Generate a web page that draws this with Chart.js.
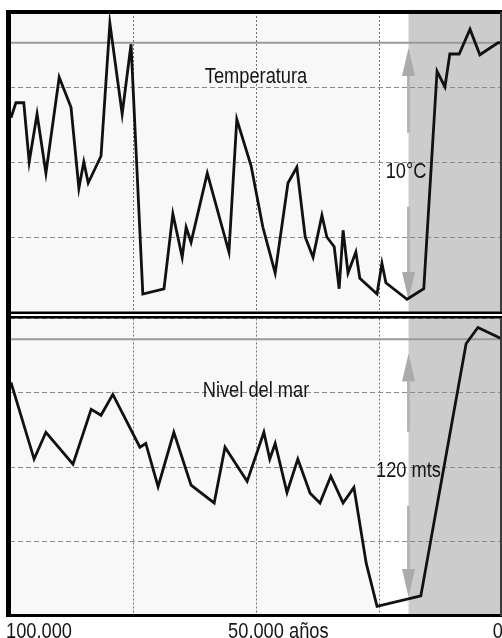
<!DOCTYPE html>
<html lang="es">
<head>
<meta charset="UTF-8">
<title>Temperatura y nivel del mar</title>
<script src="https://cdn.jsdelivr.net/npm/chart.js@4.4.1/dist/chart.umd.min.js"></script>
<style>
  body { margin: 0; background: #fff; }
  #top-box { position: absolute; left: 0; top: 0; }
  #bottom-box { position: absolute; left: 0; top: 316px; }
</style>
</head>
<body>
<div id="top-box"><canvas id="temp-chart" width="502" height="316"></canvas></div>
<div id="bottom-box"><canvas id="sea-chart" width="502" height="322"></canvas></div>
<script>
// miles de años antes del presente / valores en unidades de la cuadrícula (0-4)
var tempYears = [99.8, 98.8, 97.2, 96.1, 94.5, 92.7, 90.0, 87.6, 86.0, 85.0, 84.1, 81.5, 79.7, 77.2, 75.4,
    73.0, 68.7, 66.9, 65.0, 64.2, 63.2, 59.9, 55.5, 53.9, 51.0, 48.6, 46.1, 43.5, 41.7, 40.0, 38.4,
    36.6, 35.6, 34.1, 33.1, 32.3, 31.3, 29.7, 28.9, 25.4, 24.4, 23.6, 19.3, 15.9, 13.2, 11.6, 10.6,
    8.7, 6.5, 4.5, 2.2, 0.8, 0];
var tempValues = [2.59, 2.79, 2.79, 2.00, 2.64, 1.85, 3.13, 2.73, 1.65, 2.00, 1.72, 2.08, 3.85, 2.64, 3.57,
    0.24, 0.31, 1.31, 0.73, 1.13, 0.93, 1.85, 0.80, 2.57, 1.95, 1.13, 0.52, 1.72, 1.93, 1.00, 0.73,
    1.29, 1.00, 0.87, 0.31, 1.09, 0.52, 0.80, 0.45, 0.24, 0.65, 0.39, 0.17, 0.31, 3.21, 3.00, 3.44,
    3.44, 3.77, 3.43, 3.53, 3.59, 3.59];
var seaYears = [99.8, 95.1, 92.7, 87.2, 83.5, 81.5, 79.1, 73.6, 72.4, 69.9, 66.7, 63.2, 58.5, 56.3, 51.8,
    48.4, 47.2, 46.1, 43.7, 41.5, 39.0, 37.0, 34.8, 32.3, 30.1, 27.6, 25.4, 16.5, 7.3, 4.9, 0.2];
var seaValues = [3.14, 2.11, 2.47, 2.04, 2.78, 2.70, 2.98, 2.27, 2.32, 1.74, 2.47, 1.76, 1.52, 2.27, 1.81,
    2.47, 2.11, 2.32, 1.66, 2.11, 1.65, 1.52, 1.88, 1.52, 1.73, 0.71, 0.13, 0.27, 3.66, 3.88, 3.73];

var xTickValues = [100, 50, 0];
var xTickLabels = ['100.000', '50.000 años', '0'];
var panelTitles = ['Temperatura', 'Nivel del mar'];
var rangeLabels = ['10°C', '120 mts'];
var presentLevels = [3.59, 3.72];
var rangeTops = [3.52, 3.53];
var rangeBottoms = [0.16, 0.255];
var holoceneStart = 19;

var FONT = '22px "Liberation Sans", Arial, sans-serif';
var SQUEEZE = 0.83;

function squeezedText(ctx, text, x, y, align) {
    ctx.save();
    ctx.translate(x, y);
    ctx.scale(SQUEEZE, 1);
    ctx.font = FONT;
    ctx.fillStyle = '#151515';
    ctx.textAlign = align;
    ctx.textBaseline = 'alphabetic';
    ctx.fillText(text, 0, 0);
    ctx.restore();
}

function drawArrow(ctx, x, yTop, yBottom, gapTop, gapBottom) {
    var head = 28, half = 6.5;
    ctx.save();
    ctx.fillStyle = '#ababab';
    ctx.beginPath();
    ctx.moveTo(x, yTop);
    ctx.lineTo(x - half, yTop + head);
    ctx.lineTo(x + half, yTop + head);
    ctx.closePath();
    ctx.fill();
    ctx.beginPath();
    ctx.moveTo(x, yBottom);
    ctx.lineTo(x - half, yBottom - head);
    ctx.lineTo(x + half, yBottom - head);
    ctx.closePath();
    ctx.fill();
    ctx.fillStyle = '#b5b5b5';
    ctx.fillRect(x - 1.5, yTop + head, 3, gapTop - (yTop + head));
    ctx.fillRect(x - 1.5, gapBottom, 3, (yBottom - head) - gapBottom);
    ctx.restore();
}

var panelPlugin = {
    id: 'panel',
    beforeDraw: function (chart) {
        var a = chart.chartArea, x = chart.scales.x, ctx = chart.ctx;
        var xs = x.getPixelForValue(holoceneStart);
        var xg = x.getPixelForValue(25);
        ctx.save();
        ctx.fillStyle = '#f8f8f8';
        ctx.fillRect(a.left, a.top, xg - a.left, a.bottom - a.top);
        ctx.fillStyle = '#cccccc';
        ctx.fillRect(xs, a.top, a.right - xs, a.bottom - a.top);
        ctx.restore();
    },
    beforeDatasetsDraw: function (chart, args, opts) {
        var i = opts.index;
        var a = chart.chartArea, x = chart.scales.x, y = chart.scales.y, ctx = chart.ctx;
        // nivel actual
        var yp = y.getPixelForValue(presentLevels[i]);
        ctx.save();
        ctx.strokeStyle = '#9a9a9a';
        ctx.lineWidth = 2;
        ctx.beginPath();
        ctx.moveTo(a.left, yp);
        ctx.lineTo(a.right, yp);
        ctx.stroke();
        ctx.restore();

        var ax = x.getPixelForValue(holoceneStart);
        var ly = y.getPixelForValue(opts.rangeLabelAt);
        drawArrow(ctx, ax, y.getPixelForValue(rangeTops[i]), y.getPixelForValue(rangeBottoms[i]), ly - 45, ly + 29);
        squeezedText(ctx, rangeLabels[i], x.getPixelForValue(opts.rangeLabelYear), ly, 'center');
        squeezedText(ctx, panelTitles[i], x.getPixelForValue(50), y.getPixelForValue(opts.titleAt), 'center');
    },
    afterDraw: function (chart, args, opts) {
        var a = chart.chartArea, ctx = chart.ctx, f = opts.frame;
        ctx.save();
        ctx.fillStyle = '#000';
        ctx.fillRect(a.left - 4, a.top + f.top[0], a.right - a.left + 4, f.top[1]);
        ctx.fillRect(a.left - 4, a.bottom + f.bottom[0], a.right - a.left + 4, f.bottom[1]);
        ctx.fillRect(a.left - 4, f.left[0], 5, f.left[1]);
        ctx.fillStyle = '#3a3a3a';
        ctx.fillRect(a.right - 2, a.top, 2, a.bottom - a.top);
        ctx.restore();

        if (opts.xLabels) {
            var x = chart.scales.x;
            var base = a.bottom + 21.5;
            for (var k = 0; k < xTickValues.length; k++) {
                var px = x.getPixelForValue(xTickValues[k]);
                var txt = xTickLabels[k];
                if (k === 0) {
                    squeezedText(ctx, txt, px - 4, base, 'left');
                } else if (k === xTickValues.length - 1) {
                    squeezedText(ctx, txt, px + 1, base, 'right');
                } else {
                    ctx.save();
                    ctx.font = FONT;
                    var w = ctx.measureText(txt.split(' ')[0]).width * SQUEEZE;
                    ctx.restore();
                    squeezedText(ctx, txt, px - w / 2, base, 'left');
                }
            }
        }
    }
};

function makeConfig(years, values, panelOpts, padding) {
    var points = [];
    for (var i = 0; i < years.length; i++) {
        points.push({x: years[i], y: values[i]});
    }
    return {
        type: 'line',
        data: {
            datasets: [{
                data: points,
                borderColor: '#111',
                borderWidth: 2.8,
                pointRadius: 0,
                tension: 0,
                fill: false
            }]
        },
        options: {
            responsive: false,
            animation: false,
            layout: {padding: padding},
            scales: {
                x: {
                    type: 'linear',
                    reverse: true,
                    min: 0,
                    max: 100,
                    ticks: {display: false, stepSize: 25},
                    grid: {color: '#707070', lineWidth: 1, drawTicks: false},
                    border: {display: false, dash: [2, 2]}
                },
                y: {
                    min: 0,
                    max: 4,
                    ticks: {display: false, stepSize: 1},
                    grid: {color: '#8a8a8a', lineWidth: 1, drawTicks: false},
                    border: {display: false, dash: [5, 3]}
                }
            },
            plugins: {
                legend: {display: false},
                tooltip: {enabled: false},
                panel: panelOpts
            }
        },
        plugins: [panelPlugin]
    };
}

new Chart(document.getElementById('temp-chart'), makeConfig(tempYears, tempValues, {
    index: 0,
    titleAt: 3.05,
    rangeLabelAt: 1.79,
    rangeLabelYear: 19.5,
    frame: {top: [-2, 4], bottom: [-0.5, 2.5], left: [10, 306]},
    xLabels: false
}, {top: 12, left: 10, right: 0, bottom: 4}));

new Chart(document.getElementById('sea-chart'), makeConfig(seaYears, seaValues, {
    index: 1,
    titleAt: 2.94,
    rangeLabelAt: 1.87,
    rangeLabelYear: 19,
    frame: {top: [-2.5, 2.5], bottom: [-2, 3], left: [0, 301]},
    xLabels: true
}, {top: 2.5, left: 10, right: 0, bottom: 22}));
</script>
</body>
</html>
